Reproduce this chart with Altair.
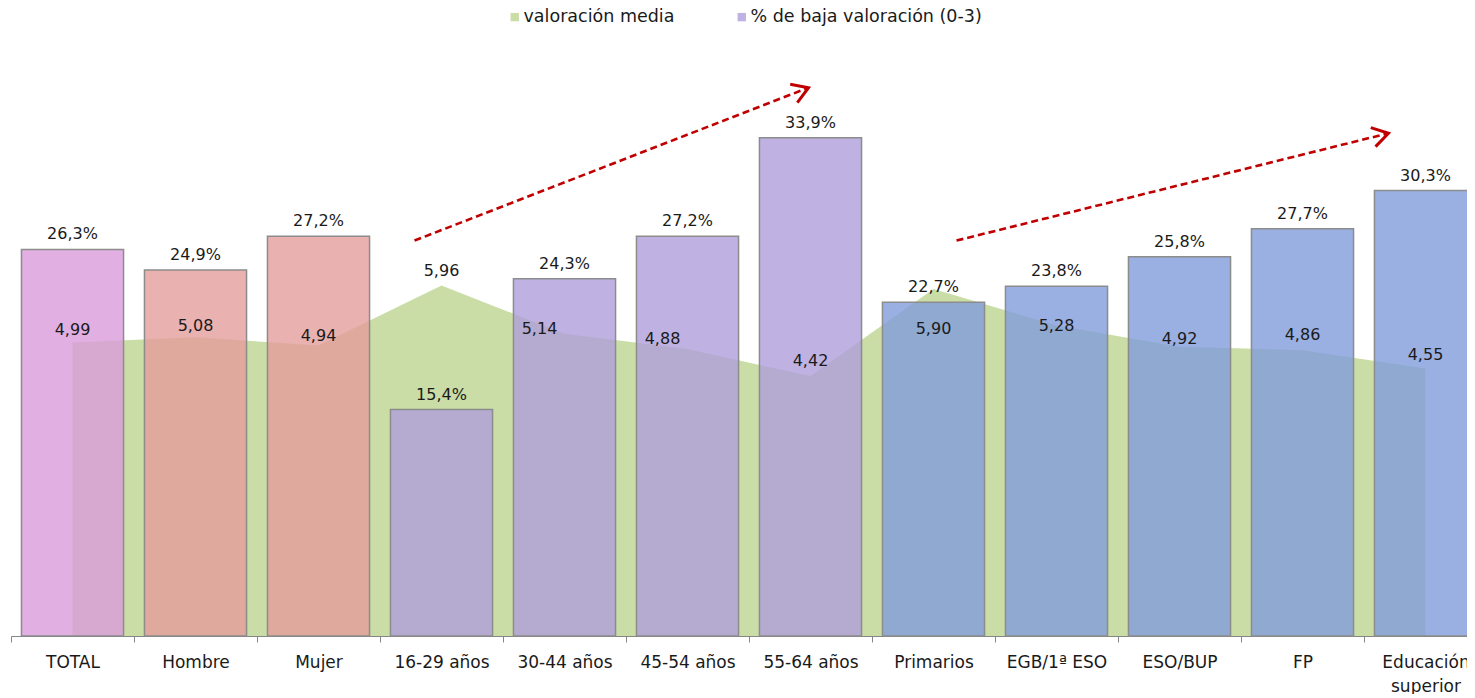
import altair as alt
import pandas as pd

# ---------------- data ----------------
categories = ["TOTAL", "Hombre", "Mujer", "16-29 años", "30-44 años", "45-54 años",
              "55-64 años", "Primarios", "EGB/1ª ESO", "ESO/BUP", "FP", "Educación superior"]
pct_baja = [26.3, 24.9, 27.2, 15.4, 24.3, 27.2, 33.9, 22.7, 23.8, 25.8, 27.7, 30.3]
valoracion = [4.99, 5.08, 4.94, 5.96, 5.14, 4.88, 4.42, 5.90, 5.28, 4.92, 4.86, 4.55]
grupo = ["total", "sexo", "sexo", "edad", "edad", "edad", "edad",
         "estudios", "estudios", "estudios", "estudios", "estudios"]
series = ["valoración media", "% de baja valoración (0-3)"]

# trend arrows (annotation, in category / % units)
arrow_from = ["16-29 años", "Primarios"]
arrow_to = ["55-64 años", "Educación superior"]
arrow_y_from = [26.9, 26.9]
arrow_y_to = [37.3, 34.2]

# ---------------- styles ----------------
FONT = "DejaVu Sans"
TXT = "#1a1a1a"
GREEN = "#CADDA6"
bar_colors = {"total": "#D99BDB", "sexo": "#E49E9B", "edad": "#AF9FDB", "estudios": "#819CDB"}
# manual label nudges (pixels, + = down) for the "valoración media" labels, as in the original
label_dy = {"TOTAL": -13, "Hombre": -11, "Mujer": -10, "16-29 años": -15, "30-44 años": -5,
            "45-54 años": -10, "55-64 años": -15, "Primarios": 40, "EGB/1ª ESO": 0,
            "ESO/BUP": -8, "FP": -15, "Educación superior": -13}
label_shift_left = {"30-44 años", "45-54 años"}
arrow_styles = [
    {"dx1": -27, "dx2": -2, "angle": 338.7},
    {"dx1": 23, "dx2": -37, "angle": 345.9},
]

W = 1456
RANGE_W = 1476
H = 576
PX_PER_PCT = 14.7      # bar scale (pixels per percentage point)
PX_PER_UNIT = 58.8     # area scale (pixels per rating unit)
Y_BAR_MAX = H / PX_PER_PCT
Y_AREA_MAX = H / PX_PER_UNIT

df = pd.DataFrame({"cat": categories, "pct": pct_baja, "media": valoracion, "grupo": grupo})
df["color"] = df["grupo"].map(bar_colors)
df["pct_lbl"] = [f"{v:.1f}".replace(".", ",") + "%" for v in pct_baja]
df["media_lbl"] = [f"{v:.2f}".replace(".", ",") for v in valoracion]
df["nudge"] = df["cat"].map(label_dy)
df["shift"] = df["cat"].isin(label_shift_left)
df["serie"] = series[0]

xscale = alt.Scale(type="band", domain=categories, range=[0, RANGE_W], paddingInner=0, paddingOuter=0)
xaxis = alt.Axis(tickBand="extent", labelAngle=0, labelFont=FONT, labelFontSize=17,
                 labelColor=TXT, labelPadding=12, tickSize=6, tickColor="#868686",
                 domainColor="#868686", labelOverlap=False, labelLimit=400,
                 labelBaseline="top", labelLineHeight=24, labelBound=False, title=None,
                 labelExpr="datum.value == 'Educación superior' ? ['Educación', 'superior'] : datum.value")
X = alt.X("cat:N", sort=categories, scale=xscale, title=None, axis=xaxis)
Y_BAR = alt.Scale(domain=[0, Y_BAR_MAX])
Y_AREA = alt.Scale(domain=[0, Y_AREA_MAX])

base = alt.Chart(df)

area = base.mark_area(interpolate="linear", opacity=1).encode(
    x=X,
    y=alt.Y("media:Q", scale=Y_AREA, axis=None),
    fill=alt.Fill(
        "serie:N",
        scale=alt.Scale(domain=series, range=[GREEN, "#BFB2E2"]),
        legend=alt.Legend(title=None, orient="none", legendX=495, legendY=-52,
                          direction="horizontal", symbolType="square", symbolSize=70,
                          labelFont=FONT, labelFontSize=17.5, labelColor=TXT, labelLimit=500,
                          columnPadding=58, labelOffset=0, symbolStrokeWidth=0,
                          symbolOpacity=1, padding=0),
    ),
)

bars = base.mark_bar(width=alt.RelativeBandSize(0.83), fillOpacity=0.8,
                     stroke="#8c8c8c", strokeWidth=1.5).encode(
    x=X,
    y=alt.Y("pct:Q", scale=Y_BAR, axis=None),
    color=alt.Color("color:N", scale=None),
)

bar_labels = base.mark_text(font=FONT, fontSize=16, color=TXT, baseline="bottom", dy=-7).encode(
    x=X,
    y=alt.Y("pct:Q", scale=Y_BAR, axis=None),
    text="pct_lbl:N",
)

media_labels = base.transform_calculate(
    ly=f"datum.media - datum.nudge / {PX_PER_UNIT}"
).transform_filter("!datum.shift").mark_text(
    font=FONT, fontSize=16, color=TXT, baseline="middle").encode(
    x=X, y=alt.Y("ly:Q", scale=Y_AREA, axis=None), text="media_lbl:N")

media_labels_shift = base.transform_calculate(
    ly=f"datum.media - datum.nudge / {PX_PER_UNIT}"
).transform_filter("datum.shift").mark_text(
    font=FONT, fontSize=16, color=TXT, baseline="middle", dx=-25).encode(
    x=X, y=alt.Y("ly:Q", scale=Y_AREA, axis=None), text="media_lbl:N")

arrow_layers = []
for i in range(len(arrow_from)):
    adf = pd.DataFrame({"a": [arrow_from[i]], "b": [arrow_to[i]],
                        "ya": [arrow_y_from[i]], "yb": [arrow_y_to[i]]})
    st = arrow_styles[i]
    line = alt.Chart(adf).mark_rule(color="#C00000", strokeWidth=2.6, strokeDash=[7, 4],
                                    xOffset=st["dx1"], x2Offset=st["dx2"]).encode(
        x=alt.X("a:N", scale=xscale, title=None, axis=xaxis), x2="b:N",
        y=alt.Y("ya:Q", scale=Y_BAR, axis=None), y2="yb:Q")
    head = alt.Chart(adf).mark_point(shape="M -1 -0.62 L 0 0 L -1 0.62", filled=False,
                                     stroke="#C00000", strokeWidth=3, size=1000, opacity=1,
                                     angle=st["angle"], xOffset=st["dx2"]).encode(
        x=alt.X("b:N", scale=xscale, title=None, axis=xaxis),
        y=alt.Y("yb:Q", scale=Y_BAR, axis=None))
    arrow_layers += [line, head]

chart = alt.layer(area, bars, bar_labels, *arrow_layers, media_labels, media_labels_shift).resolve_scale(
    y="independent"
).properties(
    width=W, height=H, autosize="none",
    padding={"left": 3, "top": 52, "right": 0, "bottom": 58},
).configure(background="white").configure_view(stroke=None)

chart.save("out.html", embed_options={"renderer": "svg", "actions": False})
